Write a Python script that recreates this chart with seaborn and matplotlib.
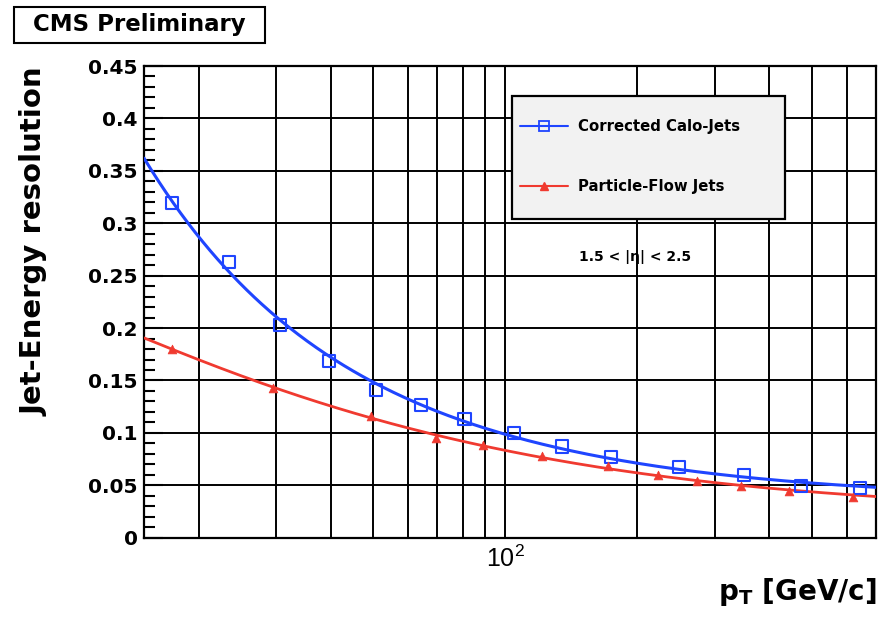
import numpy as np
import pandas as pd
import matplotlib
matplotlib.use("Agg")
import matplotlib.pyplot as plt
from matplotlib.lines import Line2D
from matplotlib.patches import Rectangle
from matplotlib.ticker import FixedLocator, MultipleLocator, NullFormatter, FixedFormatter
import seaborn as sns

# Jet-energy resolution vs jet pT, 1.5 < |eta| < 2.5
calo_pt = [17.35, 23.4, 30.7, 39.7, 50.8, 64.2, 80.7, 104.6, 134.4, 174.4, 248.9, 350.4, 472.0, 644.9]
calo_res = [0.319, 0.263, 0.203, 0.169, 0.141, 0.127, 0.113, 0.100, 0.087, 0.077, 0.067, 0.060, 0.049, 0.047]
pf_pt = [17.35, 29.6, 49.3, 69.3, 89.0, 121.4, 171.7, 223.4, 274.1, 344.4, 444.0, 619.3]
pf_res = [0.180, 0.143, 0.116, 0.095, 0.088, 0.078, 0.068, 0.060, 0.054, 0.049, 0.0445, 0.039]

series_labels = ["Corrected Calo-Jets", "Particle-Flow Jets"]
eta_label = "1.5 < |η| < 2.5"
y_ticks = [0, 0.05, 0.1, 0.15, 0.2, 0.25, 0.3, 0.35, 0.4, 0.45]
y_tick_labels = ["0", "0.05", "0.1", "0.15", "0.2", "0.25", "0.3", "0.35", "0.4", "0.45"]
x_major_ticks = [100]
x_major_labels = [r"$\mathregular{10^{2}}$"]
x_minor_ticks = [20, 30, 40, 50, 60, 70, 80, 90, 200, 300, 400, 500, 600]

BLUE = "#1f45ff"
RED = "#f03a30"

sns.set_style("ticks")
plt.rcParams["font.family"] = ["DejaVu Sans"]
plt.rcParams["mathtext.fontset"] = "dejavusans"
plt.rcParams["text.color"] = "black"
plt.rcParams["axes.labelcolor"] = "black"
plt.rcParams["xtick.color"] = "black"
plt.rcParams["ytick.color"] = "black"
plt.rcParams["axes.edgecolor"] = "black"


def resolution_fit(pt, res):
    """Least-squares fit of sigma^2 = N^2/pt^2 + S^2/pt + C^2."""
    pt = np.asarray(pt, dtype=float)
    res = np.asarray(res, dtype=float)
    design = np.column_stack([1.0 / pt**2, 1.0 / pt, np.ones_like(pt)])
    coef, *_ = np.linalg.lstsq(design, res**2, rcond=None)
    return coef


def resolution_curve(coef, pt):
    val = coef[0] / pt**2 + coef[1] / pt + coef[2]
    return np.sqrt(np.clip(val, 0, None))


calo_df = pd.DataFrame({"pt": calo_pt, "res": calo_res})
pf_df = pd.DataFrame({"pt": pf_pt, "res": pf_res})

pt_grid = np.geomspace(15, 700, 400)
calo_fit = pd.DataFrame({"pt": pt_grid, "res": resolution_curve(resolution_fit(calo_pt, calo_res), pt_grid)})
pf_fit = pd.DataFrame({"pt": pt_grid, "res": resolution_curve(resolution_fit(pf_pt, pf_res), pt_grid)})

fig = plt.figure(figsize=(8.9, 6.17), dpi=100)
ax = fig.add_axes([144 / 890, 1 - 537.7 / 617, 732 / 890, 471.7 / 617])
ax.set_xscale("log")

sns.lineplot(data=calo_fit, x="pt", y="res", ax=ax, color=BLUE, lw=2.2, zorder=3, sort=False)
sns.lineplot(data=pf_fit, x="pt", y="res", ax=ax, color=RED, lw=2.0, zorder=3, sort=False)
sns.scatterplot(data=calo_df, x="pt", y="res", ax=ax, marker="s", s=75,
                facecolor="none", edgecolor=BLUE, linewidth=1.5, zorder=4)
sns.scatterplot(data=pf_df, x="pt", y="res", ax=ax, marker="^", s=40,
                color=RED, edgecolor=RED, linewidth=0.5, zorder=4)

ax.set_xlim(15, 700)
ax.set_ylim(0, 0.45)
ax.set_xlabel("")
ax.set_ylabel("")

# axes ticks
ax.xaxis.set_major_locator(FixedLocator(x_major_ticks))
ax.xaxis.set_major_formatter(FixedFormatter(x_major_labels))
ax.xaxis.set_minor_locator(FixedLocator(x_minor_ticks))
ax.xaxis.set_minor_formatter(NullFormatter())
ax.yaxis.set_major_locator(FixedLocator(y_ticks))
ax.yaxis.set_major_formatter(FixedFormatter(y_tick_labels))
ax.yaxis.set_minor_locator(MultipleLocator(0.01))

ax.tick_params(axis="x", which="both", length=0, pad=6, colors="black")
ax.tick_params(axis="y", which="major", direction="in", length=14, width=1.5, pad=4.5,
               left=True, right=False, colors="black")
ax.tick_params(axis="y", which="minor", direction="in", length=8, width=1.5,
               left=True, right=False, colors="black")
for lab in ax.get_yticklabels():
    lab.set_fontsize(14.5)
    lab.set_fontweight("bold")
    lab.set_color("black")
for lab in ax.get_xticklabels():
    lab.set_fontsize(18)
    lab.set_fontfamily("Liberation Sans")
    lab.set_color("black")

# grid
ax.set_axisbelow(True)
ax.grid(which="major", axis="both", color="black", lw=1.4, ls="-")
ax.grid(which="minor", axis="x", color="black", lw=1.4, ls="-")
for sp in ax.spines.values():
    sp.set_visible(True)
    sp.set_color("black")
    sp.set_linewidth(1.6)

# legend box
ax.add_patch(Rectangle((0.5023, 0.675), 0.3734, 0.2614, transform=ax.transAxes,
                       facecolor="#f2f2f2", edgecolor="black", lw=1.6, zorder=4.5))
handles = [
    Line2D([], [], color=BLUE, lw=1.5, marker="s", markersize=7, markerfacecolor="none",
           markeredgecolor=BLUE, markeredgewidth=1.3),
    Line2D([], [], color=RED, lw=1.5, marker="^", markersize=6, markerfacecolor=RED,
           markeredgecolor=RED),
]
leg = ax.legend(handles, series_labels, loc="upper left", bbox_to_anchor=(0.5137, 0.8868),
                frameon=False, prop={"weight": "bold", "size": 10.7}, handlelength=3.2,
                handletextpad=0.7, labelspacing=3.0, borderpad=0, borderaxespad=0)
leg.set_zorder(6)
for t in leg.get_texts():
    t.set_color("black")

ax.text(0.6708, 0.5951, eta_label, transform=ax.transAxes, ha="center", va="center",
        fontsize=10, fontweight="bold", color="black", zorder=6)

# axis titles
fig.text(35 / 890, 1 - 242 / 617, "Jet-Energy resolution", rotation=90, ha="center",
         va="center", fontsize=21, fontweight="bold", color="black")
fig.text(877 / 890, 1 - 600 / 617, r"$\mathbf{p}_{\mathbf{T}}$ [GeV/c]", ha="right",
         va="baseline", fontsize=20, fontweight="bold", color="black")

# header box
fig.add_artist(Rectangle((14 / 890, 1 - 42.7 / 617), 251 / 890, 35.7 / 617,
                         transform=fig.transFigure, facecolor="white", edgecolor="black", lw=1.5))
fig.text(139.5 / 890, 1 - 24.5 / 617, "CMS Preliminary", ha="center", va="center",
         fontsize=16.5, fontweight="bold", color="black")

fig.savefig("out.png", dpi=100)
